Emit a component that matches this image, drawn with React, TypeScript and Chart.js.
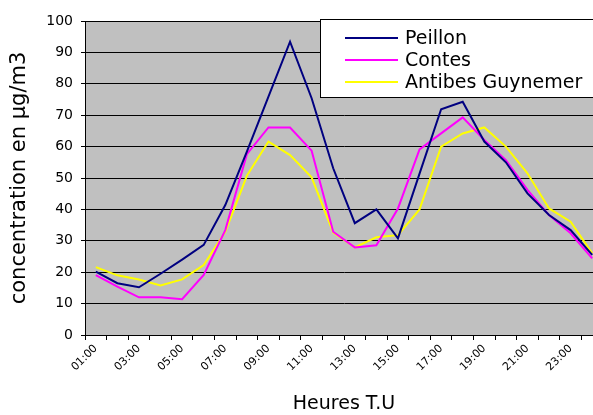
import React, { useEffect, useRef } from "react";
import { Chart, registerables } from "chart.js";

Chart.register(...registerables);

const hours = [
  "01:00", "02:00", "03:00", "04:00", "05:00", "06:00", "07:00", "08:00",
  "09:00", "10:00", "11:00", "12:00", "13:00", "14:00", "15:00", "16:00",
  "17:00", "18:00", "19:00", "20:00", "21:00", "22:00", "23:00", "24:00",
];

const peillon = [20.2, 16.5, 15.2, 19.5, 24, 28.7, 41.4, 58.4, 75.9, 93.4, 75.4, 53.1,
  35.6, 40.0, 30.8, 51.4, 71.9, 74.3, 61.6, 55.0, 45.1, 38.2, 33.4, 25.5];

const contes = [19.1, 15.4, 12.0, 12.0, 11.4, 19.1, 33.4, 57.6, 66.1, 66.1, 58.7, 32.9,
  27.9, 28.6, 40.3, 59.1, 64.2, 69.3, 62.1, 55.7, 46.2, 38.2, 32.4, 24.4];

const antibes = [21.6, 19.0, 17.7, 15.8, 17.7, 22.3, 32.9, 50.7, 61.6, 57.3, 50.2, 32.6,
  27.9, 31.1, 31.8, 40.0, 60.0, 64.2, 66.1, 60.0, 51.5, 40.3, 36.1, 26.0];

const seriesNames = ["Peillon", "Contes", "Antibes Guynemer"];
const seriesColors = ["#000080", "#FF00FF", "#FFFF00"];

const FONT = "'DejaVu Sans', sans-serif";

const bgPlugin = {
  id: "plotBg",
  beforeDraw(chart: any) {
    const { ctx, chartArea } = chart;
    ctx.save();
    ctx.fillStyle = "#C0C0C0";
    ctx.fillRect(chartArea.left, chartArea.top, chartArea.right - chartArea.left, chartArea.bottom - chartArea.top);
    ctx.restore();
  },
};

const legendPlugin = {
  id: "boxLegend",
  afterDraw(chart: any) {
    const { ctx } = chart;
    ctx.save();
    ctx.fillStyle = "#FFFFFF";
    ctx.fillRect(320.5, 19.5, 300, 78);
    ctx.strokeStyle = "#000000";
    ctx.lineWidth = 1;
    ctx.strokeRect(320.5, 19.5, 300, 78);
    const rows = [38, 60, 82];
    seriesNames.forEach((name, i) => {
      ctx.strokeStyle = seriesColors[i];
      ctx.lineWidth = 2;
      ctx.beginPath();
      ctx.moveTo(345, rows[i]);
      ctx.lineTo(398, rows[i]);
      ctx.stroke();
      ctx.fillStyle = "#000000";
      ctx.font = `19px ${FONT}`;
      ctx.textBaseline = "middle";
      ctx.textAlign = "left";
      ctx.fillText(name, 405, rows[i] + 1);
    });
    ctx.restore();
  },
};

export default function App() {
  const ref = useRef<HTMLCanvasElement>(null);

  useEffect(() => {
    if (!ref.current) return;
    const data = [peillon, contes, antibes];
    const chart = new Chart(ref.current, {
      type: "line",
      data: {
        labels: hours,
        datasets: data.map((d, i) => ({
          label: seriesNames[i],
          data: d,
          borderColor: seriesColors[i],
          backgroundColor: seriesColors[i],
          borderWidth: 2,
          pointRadius: 0,
          tension: 0,
          fill: false,
        })),
      },
      options: {
        responsive: false,
        animation: false,
        layout: { padding: { left: 0, right: 7, top: 21, bottom: 0 } },
        plugins: {
          legend: { display: false },
          tooltip: { enabled: false },
        },
        scales: {
          x: {
            type: "category",
            offset: true,
            grid: {
              offset: true,
              drawOnChartArea: false,
              drawTicks: true,
              tickLength: 5,
              color: "#000000",
            },
            border: { display: true, color: "#000000", width: 1 },
            ticks: {
              autoSkip: false,
              maxRotation: 45,
              minRotation: 45,
              color: "#000000",
              padding: 2,
              font: { family: FONT, size: 11 },
              callback: (_v: any, i: number) => (i % 2 === 0 ? hours[i] : ""),
            },
            title: {
              display: true,
              text: "Heures T.U",
              color: "#000000",
              font: { family: FONT, size: 19 },
              padding: { top: 0, bottom: 0 },
            },
            afterFit: (scale: any) => {
              scale.height = 80;
            },
          },
          y: {
            min: 0,
            max: 100,
            ticks: {
              stepSize: 10,
              color: "#000000",
              padding: 8,
              font: { family: FONT, size: 14 },
            },
            grid: {
              color: "#000000",
              lineWidth: 1,
              tickLength: 4,
            },
            border: { display: true, color: "#000000", width: 1 },
            title: {
              display: true,
              text: "concentration en µg/m3",
              color: "#000000",
              font: { family: FONT, size: 21 },
              padding: { top: 7, bottom: 0 },
            },
            afterFit: (scale: any) => {
              scale.width = 85;
            },
          },
        },
      },
      plugins: [bgPlugin, legendPlugin],
    });
    return () => chart.destroy();
  }, []);

  return (
    <div style={{ position: "fixed", left: 0, top: 0, width: 593, height: 415, overflow: "hidden", background: "#fff" }}>
      <canvas ref={ref} width={610} height={415} style={{ display: "block", width: 610, height: 415 }} />
    </div>
  );
}
